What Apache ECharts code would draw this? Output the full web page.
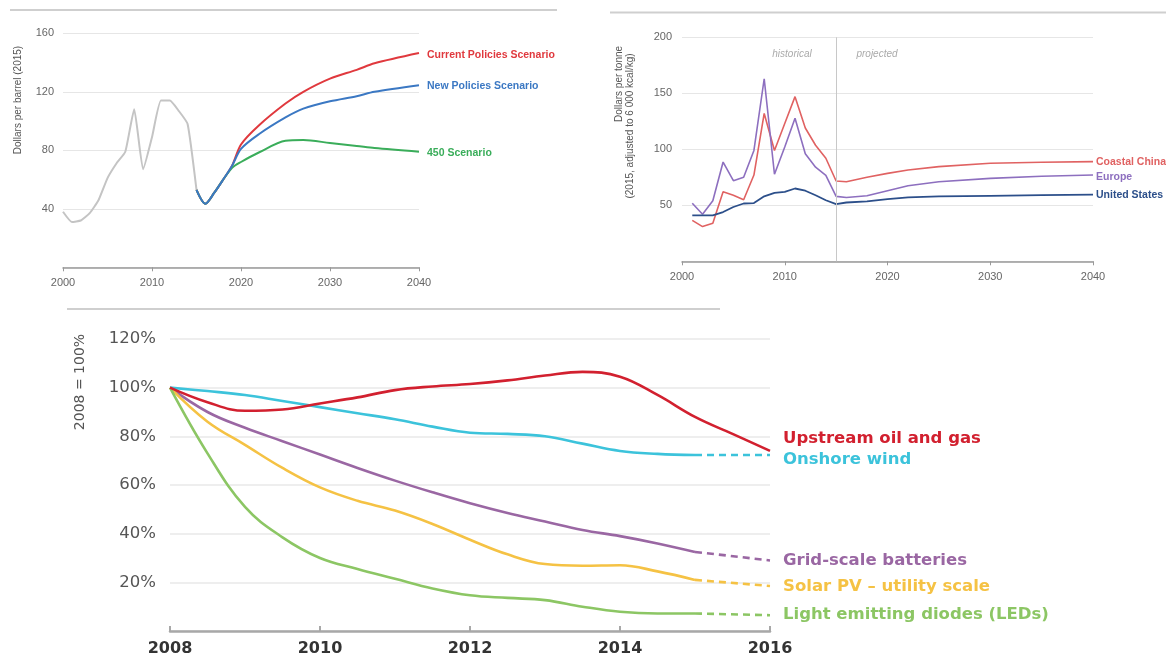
<!DOCTYPE html>
<html><head><meta charset="utf-8">
<script src="https://cdn.jsdelivr.net/npm/echarts@6/dist/echarts.min.js"></script>
<style>html,body{margin:0;padding:0;background:#fff}#c{width:1166px;height:659px}</style>
</head><body><div id="c"></div><script>
// ---------- Panel 1: oil price (dollars per barrel, 2015) ----------
const oilHistYears = [2000,2001,2002,2003,2004,2005,2006,2007,2008,2009,2010,2011,2012,2013,2014,2015];
const oilHist      = [38,31,32,37,46,61,71,79,108,67,89,114,114,107,98,53];
const oilProjYears = [2015,2016,2017,2018,2019,2020,2022,2025,2027,2030,2033,2035,2040];
const oilCurrent   = [53,43.5,51,60,69.5,84,97,112,120,129,135,139.5,146.5];
const oilNew       = [53,43.5,51,60,69.5,81,91,102.5,108.5,113.5,117,120,124.5];
const oil450       = [53,43.5,51,60,68,72,78.5,86.5,87,85,83,81.5,79];
const oilNames     = ['Current Policies Scenario','New Policies Scenario','450 Scenario'];
const oilYTicks    = [40,80,120,160];

// ---------- Panel 2: coal price (dollars per tonne) ----------
const coalYears  = [2001,2002,2003,2004,2005,2006,2007,2008,2009,2010,2011,2012,2013,2014,2015,2016,2018,2020,2022,2025,2030,2035,2040];
const coalChina  = [36.6,31,34,62,59,55,77,132,99,123,147,119,103.6,92,71.7,71,75,78.5,81.5,84.5,87.5,88.5,89];
const coalEurope = [51.8,42,54,88.6,72,75,99,163,77.7,102,127.7,96,84,76.8,58,57,58.5,63,67.5,71,74,76,77];
const coalUS     = [41,41,41,44,48.5,51.6,52,58,61,62,65,63,59,54.5,51,52.5,53.5,55.5,57,58,58.5,59,59.5];
const coalNames  = ['Coastal China','Europe','United States'];

// ---------- Panel 3: cost index (2008 = 100%) ----------
const costYears = [2008,2008.5,2009,2009.5,2010,2010.5,2011,2011.5,2012,2012.5,2013,2013.5,2014,2014.5,2015,2015.5,2016];
const upstream  = [100,94,90.5,91,93.5,96,99,100.5,101.5,103,105,106.5,104.5,97,88,81,74];
const wind      = [100,98.6,97,94.5,92,89.5,87,84,81.5,81,80,77,74,72.8,72.3];
const batteries = [100,90,83.5,78,72.5,67,61.8,57,52.5,48.5,45,41.5,39,36,32.5];
const solar     = [100,86,76.5,67,59,53.5,49.5,44,37.5,31.5,27.5,26.8,27,24.5,21];
const leds      = [100,73,51,38.5,30,25.5,21.5,17.5,14.7,13.6,12.7,10,7.9,7.2,7.2];
const dashYears = [2015,2016];
const windEnd = 72.3, batteriesEnd = 29, solarEnd = 18.5, ledsEnd = 6.5;
const costNames = ['Upstream oil and gas','Onshore wind','Grid-scale batteries','Solar PV \u2013 utility scale','Light emitting diodes (LEDs)'];

const pairs = (xs, ys) => ys.map((y, i) => [xs[i], y]);

const smallFont = 'Liberation Sans';
const bigFont = 'DejaVu Sans';

function line(name, xi, xs, ys, color, width, opts) {
  opts = opts || {};
  const s = {
    type: 'line', name: name, xAxisIndex: xi, yAxisIndex: xi,
    data: pairs(xs, ys), showSymbol: false, symbol: 'none',
    smooth: opts.smooth || false,
    lineStyle: { color: color, width: width, type: opts.dash ? [7, 5] : 'solid' },
    itemStyle: { color: color },
    z: opts.z || 2, silent: true, animation: false
  };
  if (opts.label) {
    s.endLabel = Object.assign({ show: true, formatter: name, color: color, distance: 6 }, opts.label);
  }
  return s;
}

const chart = echarts.init(document.getElementById('c'), null, { renderer: 'canvas' });

const smallAxisLabel = { color: '#666', fontSize: 11, fontFamily: smallFont };
const yearFmt = v => String(v);
const bigLabel = { fontSize: 16.5, fontWeight: 'bold', fontFamily: bigFont, distance: 13 };

const option = {
  backgroundColor: '#ffffff',
  animation: false,
  grid: [
    { left: 63, top: 33.3, width: 356, height: 234 },
    { left: 682, top: 37.3, width: 411, height: 224 },
    { left: 170, top: 339, width: 600, height: 292 }
  ],
  xAxis: [
    { gridIndex: 0, type: 'value', min: 2000, max: 2040, interval: 10,
      axisLine: { lineStyle: { color: '#999', width: 1.5 } },
      axisTick: { show: true, length: 4, lineStyle: { color: '#999' } },
      splitLine: { show: false },
      axisLabel: Object.assign({ margin: 10, formatter: yearFmt }, smallAxisLabel) },
    { gridIndex: 1, type: 'value', min: 2000, max: 2040, interval: 10,
      axisLine: { lineStyle: { color: '#999', width: 1.5 } },
      axisTick: { show: true, length: 4, lineStyle: { color: '#999' } },
      splitLine: { show: false },
      axisLabel: Object.assign({ margin: 10, formatter: yearFmt }, smallAxisLabel) },
    { gridIndex: 2, type: 'value', min: 2008, max: 2016, interval: 2,
      axisLine: { lineStyle: { color: '#a8a8a8', width: 2.5 } },
      axisTick: { show: true, inside: true, length: 5, lineStyle: { color: '#a8a8a8', width: 2 } },
      splitLine: { show: false },
      axisLabel: { color: '#333', fontSize: 16, fontWeight: 'bold', fontFamily: bigFont, margin: 10, formatter: yearFmt } }
  ],
  yAxis: [
    { gridIndex: 0, type: 'value', min: 0, max: 160, interval: 40,
      axisLine: { show: false }, axisTick: { show: false },
      splitLine: { lineStyle: { color: '#e6e6e6', width: 1 } },
      axisLabel: Object.assign({ margin: 9, formatter: v => oilYTicks.indexOf(v) >= 0 ? String(v) : '' }, smallAxisLabel) },
    { gridIndex: 1, type: 'value', min: 0, max: 200, interval: 50,
      axisLine: { show: false }, axisTick: { show: false },
      splitLine: { lineStyle: { color: '#e6e6e6', width: 1 } },
      axisLabel: Object.assign({ margin: 10, formatter: v => v === 0 ? '' : String(v) }, smallAxisLabel) },
    { gridIndex: 2, type: 'value', min: 0, max: 120, interval: 20,
      axisLine: { show: false }, axisTick: { show: false },
      splitLine: { lineStyle: { color: '#e8e8e8', width: 1.5 } },
      axisLabel: { color: '#555', fontSize: 16.5, fontFamily: bigFont, margin: 14, formatter: v => v === 0 ? '' : v + '%' } }
  ],
  series: [
    // Panel 1
    line('historical', 0, oilHistYears, oilHist, '#c4c4c4', 2, { smooth: 0.15 }),
    line(oilNames[0], 0, oilProjYears, oilCurrent, '#e0393e', 2, { smooth: 0.3,
      label: { fontSize: 10.5, fontWeight: 'bold', fontFamily: smallFont, offset: [2, 2] } }),
    line(oilNames[2], 0, oilProjYears, oil450, '#3aad5a', 2, { smooth: 0.3,
      label: { fontSize: 10.5, fontWeight: 'bold', fontFamily: smallFont, offset: [2, 1] } }),
    line(oilNames[1], 0, oilProjYears, oilNew, '#3b78c3', 2, { smooth: 0.3, z: 3,
      label: { fontSize: 10.5, fontWeight: 'bold', fontFamily: smallFont, offset: [2, 1] } }),
    // Panel 2
    Object.assign(line(coalNames[0], 1, coalYears, coalChina, '#e06262', 1.6, {
      label: { fontSize: 10.5, fontWeight: 'bold', fontFamily: smallFont, distance: 3, offset: [0, 0] } }), {
      markLine: { silent: true, symbol: ['none', 'none'], label: { show: false },
        lineStyle: { color: '#c8c8c8', width: 1, type: 'solid' }, data: [{ xAxis: 2015 }] } }),
    line(coalNames[1], 1, coalYears, coalEurope, '#8d6fbf', 1.6, {
      label: { fontSize: 10.5, fontWeight: 'bold', fontFamily: smallFont, distance: 3, offset: [0, 2] } }),
    line(coalNames[2], 1, coalYears, coalUS, '#2c4f8a', 1.8, {
      label: { fontSize: 10.5, fontWeight: 'bold', fontFamily: smallFont, distance: 3, offset: [0, 0] } }),
    // Panel 3
    line(costNames[1], 2, costYears, wind, '#3cc3db', 2.6, { smooth: 0.4 }),
    line(costNames[1], 2, dashYears, [wind[wind.length - 1], windEnd], '#3cc3db', 2.6, { dash: true,
      label: Object.assign({ offset: [0, 5] }, bigLabel) }),
    line(costNames[0], 2, costYears, upstream, '#d2202f', 2.6, { smooth: 0.4, z: 3,
      label: Object.assign({ offset: [0, -12] }, bigLabel) }),
    line(costNames[2], 2, costYears, batteries, '#9a67a3', 2.6, { smooth: 0.4 }),
    line(costNames[2], 2, dashYears, [batteries[batteries.length - 1], batteriesEnd], '#9a67a3', 2.6, { dash: true,
      label: Object.assign({ offset: [0, 0] }, bigLabel) }),
    line(costNames[3], 2, costYears, solar, '#f5c244', 2.6, { smooth: 0.4 }),
    line(costNames[3], 2, dashYears, [solar[solar.length - 1], solarEnd], '#f5c244', 2.6, { dash: true,
      label: Object.assign({ offset: [0, 1] }, bigLabel) }),
    line(costNames[4], 2, costYears, leds, '#8cc664', 2.6, { smooth: 0.4 }),
    line(costNames[4], 2, dashYears, [leds[leds.length - 1], ledsEnd], '#8cc664', 2.6, { dash: true,
      label: Object.assign({ offset: [0, 0] }, bigLabel) })
  ],
  graphic: [
    { type: 'line', shape: { x1: 10, y1: 10, x2: 557, y2: 10 }, style: { stroke: '#cfcfcf', lineWidth: 2 }, silent: true },
    { type: 'line', shape: { x1: 610, y1: 12.5, x2: 1166, y2: 12.5 }, style: { stroke: '#cfcfcf', lineWidth: 2 }, silent: true },
    { type: 'line', shape: { x1: 67, y1: 309, x2: 720, y2: 309 }, style: { stroke: '#cfcfcf', lineWidth: 2 }, silent: true },
    { type: 'text', x: 18, y: 100, rotation: Math.PI / 2,
      style: { text: 'Dollars per barrel (2015)', fill: '#555', font: '10px "Liberation Sans"', textAlign: 'center', textVerticalAlign: 'middle' }, silent: true },
    { type: 'text', x: 619, y: 84, rotation: Math.PI / 2,
      style: { text: 'Dollars per tonne', fill: '#555', font: '10px "Liberation Sans"', textAlign: 'center', textVerticalAlign: 'middle' }, silent: true },
    { type: 'text', x: 630, y: 126, rotation: Math.PI / 2,
      style: { text: '(2015, adjusted to 6 000 kcal/kg)', fill: '#555', font: '10px "Liberation Sans"', textAlign: 'center', textVerticalAlign: 'middle' }, silent: true },
    { type: 'text', x: 792, y: 54,
      style: { text: 'historical', fill: '#aaa', font: 'italic 10px "Liberation Sans"', textAlign: 'center', textVerticalAlign: 'middle' }, silent: true },
    { type: 'text', x: 877, y: 54,
      style: { text: 'projected', fill: '#aaa', font: 'italic 10px "Liberation Sans"', textAlign: 'center', textVerticalAlign: 'middle' }, silent: true },
    { type: 'text', x: 80, y: 382, rotation: Math.PI / 2,
      style: { text: '2008 = 100%', fill: '#555', font: '14px "DejaVu Sans"', textAlign: 'center', textVerticalAlign: 'middle' }, silent: true }
  ]
};
chart.setOption(option);
</script></body></html>
